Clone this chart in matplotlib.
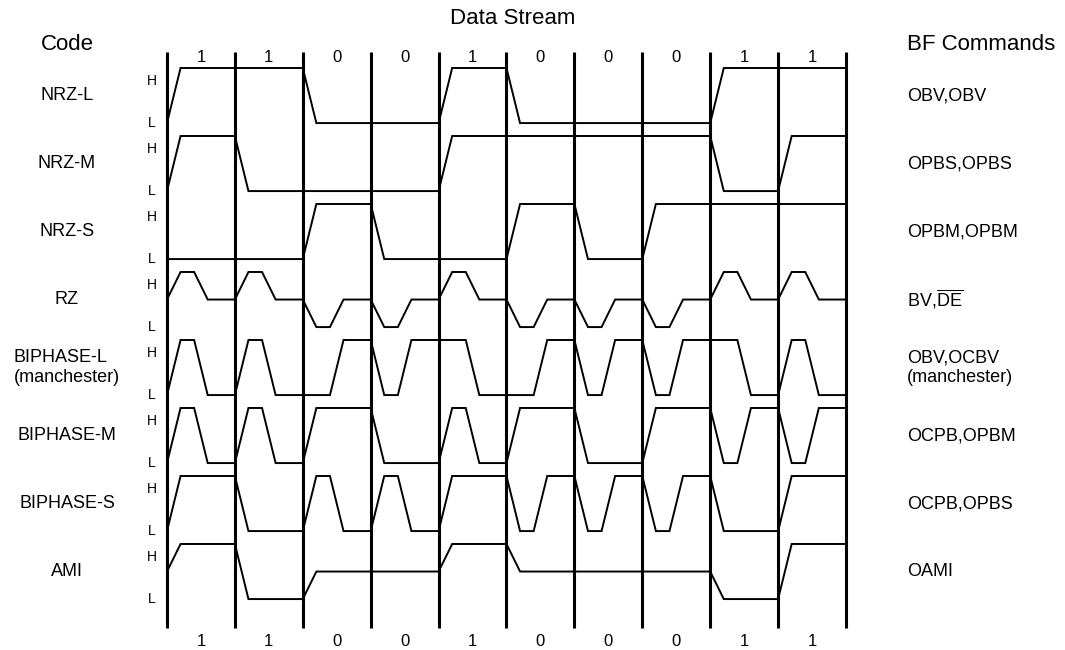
import matplotlib.pyplot as plt
import numpy as np

plt.rcParams['font.family'] = ['Liberation Sans', 'DejaVu Sans']
plt.rcParams['mathtext.fontset'] = 'custom'
plt.rcParams['mathtext.rm'] = 'Liberation Sans'

# data stream
bits = [1, 1, 0, 0, 1, 0, 0, 0, 1, 1]

codes = ['NRZ-L', 'NRZ-M', 'NRZ-S', 'RZ', 'BIPHASE-L\n(manchester)',
         'BIPHASE-M', 'BIPHASE-S', 'AMI']
commands = ['OBV,OBV', 'OPBS,OPBS', 'OPBM,OPBM', r'BV,$\overline{\mathrm{DE}}$',
            'OBV,OCBV\n(manchester)', 'OCPB,OPBM', 'OCPB,OPBS', 'OAMI']

# level before the first bit, then two half-bit levels per bit (H / M / L)
start_levels = ['L', 'L', 'L', 'M', 'L', 'L', 'L', 'M']
half_levels = [
    'HHHHLLLLHHLLLLLLHHHH',  # NRZ-L
    'HHLLLLLLHHHHHHHHLLHH',  # NRZ-M
    'LLLLHHLLLLHHLLHHHHHH',  # NRZ-S
    'HMHMLMLMHMLMLMLMHMHM',  # RZ
    'HLHLLHLHHLLHLHLHHLHL',  # BIPHASE-L
    'HLHLHHLLHLHHLLHHLHLH',  # BIPHASE-M
    'HHLLHLHLHHLHLHLHLLHH',  # BIPHASE-S
    'HHLLMMMMHHMMMMMMLLHH',  # AMI
]

depth = {'H': 0.0, 'M': 0.5, 'L': 1.0}
amp = 0.81     # H-L distance in row units
ramp = 0.2     # edge duration in bit units


def wave(start, halves):
    xs = [0.0]
    ys = [depth[start]]
    prev = start
    for k, lv in enumerate(halves):
        t = k * 0.5
        if lv != prev:
            # edges on the bit boundary start there, mid-bit edges are centred
            t0 = t if k % 2 == 0 else t - ramp / 2
            xs += [t0, t0 + ramp]
            ys += [depth[prev], depth[lv]]
            prev = lv
    xs.append(len(halves) * 0.5)
    ys.append(depth[prev])
    return np.array(xs), np.array(ys)


fig = plt.figure(figsize=(10.65, 6.5), dpi=100)
ax = fig.add_axes([0, 0, 1, 1])
ax.set_xlim(-2.459, 13.225)
ax.set_ylim(8.559, -1.0)
ax.axis('off')

n = len(bits)
ax.vlines(np.arange(n + 1), -0.235, 8.235, color='black', lw=2.2)

for r, (st, hl) in enumerate(zip(start_levels, half_levels)):
    xs, ys = wave(st, hl)
    ax.plot(xs, r + amp * ys, color='black', lw=1.4, solid_joinstyle='miter')
    ax.text(-0.22, r + 0.19, 'H', fontsize=10, ha='center', va='center')
    ax.text(-0.22, r + amp, 'L', fontsize=10, ha='center', va='center')
    ax.text(-1.473, r + amp / 2, codes[r], fontsize=13, ha='center',
            va='center', multialignment='left')
    ax.text(10.9, r + amp / 2, commands[r], fontsize=13, ha='left',
            va='center', multialignment='left')

for i, b in enumerate(bits):
    ax.text(i + 0.5, -0.16, str(b), fontsize=12, ha='center', va='center')
    ax.text(i + 0.5, 8.43, str(b), fontsize=12, ha='center', va='center')

ax.text(5.09, -0.735, 'Data Stream', fontsize=16, ha='center', va='center')
ax.text(-1.473, -0.34, 'Code', fontsize=16, ha='center', va='center')
ax.text(10.9, -0.34, 'BF Commands', fontsize=16, ha='left', va='center')

fig.savefig('out.png', dpi=100)
